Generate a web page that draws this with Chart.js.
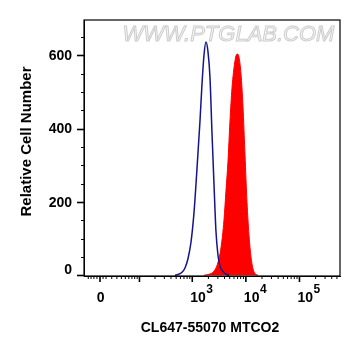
<!DOCTYPE html>
<html>
<head>
<meta charset="utf-8">
<script src="https://cdn.jsdelivr.net/npm/chart.js@4/dist/chart.umd.min.js"></script>
<style>
html,body{margin:0;padding:0;background:#fff;}
#wrap{width:361px;height:356px;position:relative;}
</style>
</head>
<body>
<div id="wrap"><canvas id="c" width="361" height="356"></canvas></div>
<script>
// ---- data (fluorescence intensity bins and event counts) ----
const blueIntensity = [476,541,642,731,831,946,1076,1224,1392,1517,1653,1801,1963,2139,2331,2540,2768,3017,3287,3739,4254,4839];
const blueCounts    = [0,2,8,20,45,90,170,290,420,520,600,636,610,540,390,250,120,55,25,10,3,0];
const redIntensity  = [1653,1963,2331,2651,3017,3432,3903,4254,4636,5052,5505,5999,6537,6971,7435,8102,8830,9621,10484,11424,12449,13566,14783,16816];
const redCounts     = [0,2,6,15,35,75,150,230,310,420,510,565,598,603,595,550,460,330,200,110,50,18,5,0];
const yTickValues   = [0,200,400,600];
const xMajorValues  = [0,1000,10000,100000];
const xMajorExp     = ['','3','4','5'];
const xTitle = 'CL647-55070 MTCO2';
const yTitle = 'Relative Cell Number';
const watermark = 'WWW.PTGLAB.COM';

// biexponential-like display transform
const W = 38;
const biex = v => Math.asinh(v / W);

const FONT = '"Liberation Sans", Arial, sans-serif';

const decor = {
  id: 'decor',
  beforeDatasetsDraw(chart) {
    const ctx = chart.ctx;
    ctx.save();
    ctx.font = 'italic 22px ' + FONT;
    ctx.textAlign = 'center';
    ctx.textBaseline = 'middle';
    ctx.lineWidth = 1;
    ctx.fillStyle = '#f7f7f7';
    ctx.strokeStyle = '#cdcdcd';
    ctx.fillText(watermark, 228.5, 34.5);
    ctx.strokeText(watermark, 228.5, 34.5);
    ctx.restore();
  },
  afterDraw(chart) {
    const ctx = chart.ctx;
    const a = chart.chartArea;
    const xs = chart.scales.x, ys = chart.scales.y;
    ctx.save();
    ctx.strokeStyle = '#000';
    ctx.lineWidth = 1.2;
    ctx.strokeRect(a.left, a.top, a.right - a.left, a.bottom - a.top);
    // y ticks
    for (let v = 0; v <= 650; v += 50) {
      const y = Math.round(ys.getPixelForValue(v)) + 0.5;
      const major = v % 200 === 0;
      ctx.lineWidth = major ? 1.6 : 1;
      ctx.beginPath();
      ctx.moveTo(a.left - (major ? 7 : 3), y);
      ctx.lineTo(a.left, y);
      ctx.stroke();
    }
    // y tick labels
    ctx.fillStyle = '#000';
    ctx.font = 'bold 14px ' + FONT;
    ctx.textAlign = 'right';
    ctx.textBaseline = 'middle';
    yTickValues.forEach(v => {
      const y = ys.getPixelForValue(v) + (v === 0 ? -5 : 1);
      ctx.fillText(String(v), a.left - 12, y);
    });
    // x ticks
    const minor = [-20,-15,-10,-5,5,10,20,30,40,50,60,70,80,90];
    for (let d = 100; d <= 100000; d *= 10) for (let k = 2; k <= 9; k++) minor.push(k * d);
    const majors = [0,100,1000,10000,100000];
    const drawX = (v, len, lw) => {
      const x = xs.getPixelForValue(biex(v));
      if (x < a.left + 1 || x > a.right - 1) return;
      ctx.lineWidth = lw;
      ctx.beginPath();
      ctx.moveTo(x, a.bottom);
      ctx.lineTo(x, a.bottom + len);
      ctx.stroke();
    };
    minor.forEach(v => drawX(v, 3, 1));
    majors.forEach(v => drawX(v, 6, 1.6));
    // x tick labels
    xMajorValues.forEach((v, i) => {
      const x = xs.getPixelForValue(biex(v));
      if (xMajorExp[i] === '') {
        ctx.font = 'bold 14px ' + FONT;
        ctx.textAlign = 'center';
        ctx.fillText('0', x + 0.7, 298.5);
      } else {
        ctx.font = 'bold 14px ' + FONT;
        ctx.textAlign = 'left';
        ctx.fillText('10', x - 2, 298.5);
        const w = ctx.measureText('10').width;
        ctx.font = 'bold 12px ' + FONT;
        ctx.fillText(xMajorExp[i], x - 2 + w + 0.5, 290);
      }
    });
    // titles
    ctx.font = 'bold 14px ' + FONT;
    ctx.textAlign = 'center';
    ctx.fillText(xTitle, 210, 328);
    ctx.save();
    ctx.translate(26.7, 141.5);
    ctx.rotate(-Math.PI / 2);
    ctx.font = 'bold 15px ' + FONT;
    ctx.fillText(yTitle, 0, 0);
    ctx.restore();
    ctx.restore();
  }
};

new Chart(document.getElementById('c'), {
  type: 'line',
  data: {
    datasets: [
      {
        label: 'control',
        data: blueIntensity.map((v, i) => ({ x: biex(v), y: blueCounts[i] })),
        borderColor: '#14148c',
        borderWidth: 1.5,
        pointRadius: 0,
        fill: false,
        cubicInterpolationMode: 'monotone'
      },
      {
        label: 'MTCO2',
        data: redIntensity.map((v, i) => ({ x: biex(v), y: redCounts[i] })),
        borderColor: '#ff0000',
        backgroundColor: '#ff0000',
        borderWidth: 1,
        pointRadius: 0,
        fill: 'origin',
        cubicInterpolationMode: 'monotone'
      }
    ]
  },
  options: {
    responsive: false,
    animation: false,
    layout: { padding: { top: 20, right: 21, left: 0, bottom: 0 } },
    plugins: { legend: { display: false }, tooltip: { enabled: false } },
    scales: {
      x: {
        type: 'linear',
        min: (84 - 100) / 23.28,
        max: (340 - 100) / 23.28,
        grid: { display: false },
        border: { display: true, color: '#000', width: 1 },
        ticks: { display: false },
        afterFit: s => { s.height = 80; }
      },
      y: {
        type: 'linear',
        min: -2,
        max: 696,
        grid: { display: false },
        border: { display: true, color: '#000', width: 1 },
        afterBuildTicks: s => { s.ticks = yTickValues.map(v => ({ value: v })); },
        ticks: { display: false },
        afterFit: s => { s.width = 84; }
      }
    }
  },
  plugins: [decor]
});
</script>
</body>
</html>
